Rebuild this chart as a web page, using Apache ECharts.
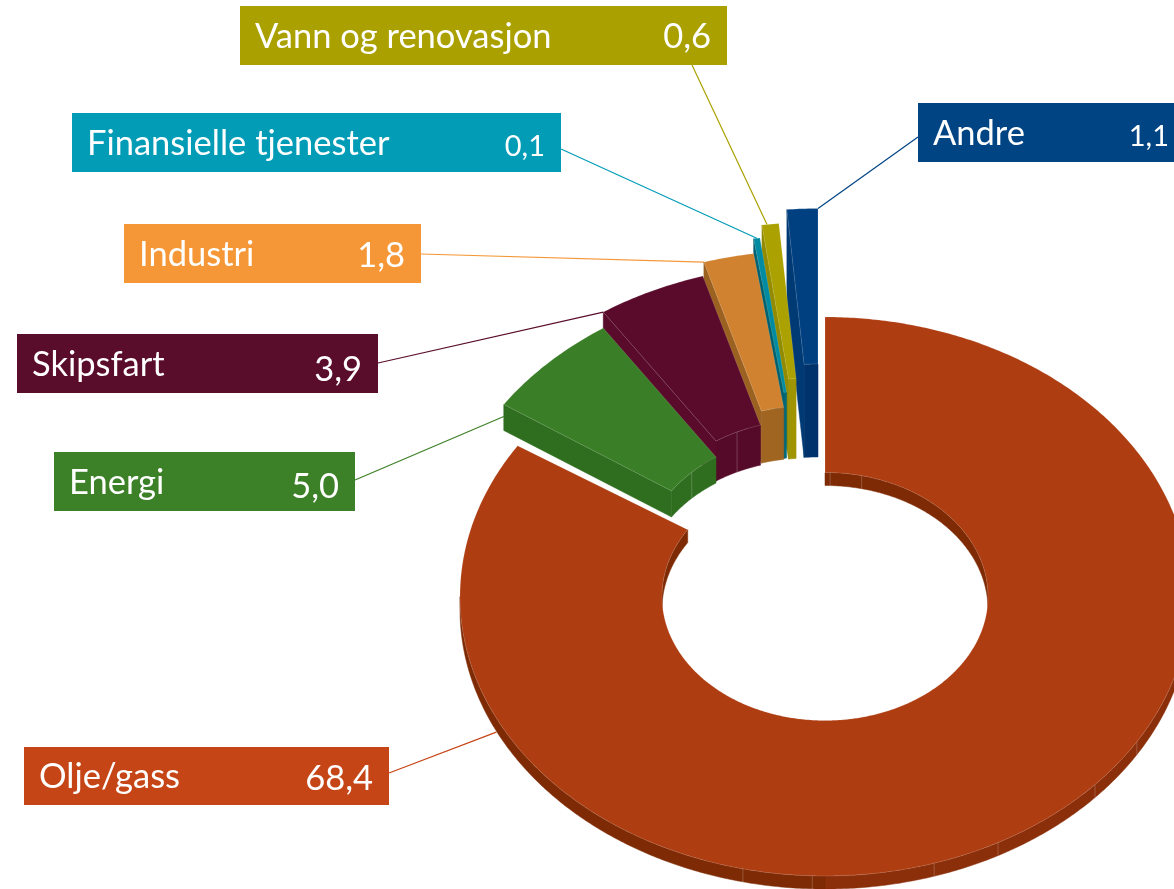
<!DOCTYPE html>
<html>
<head>
<meta charset="utf-8">
<style>
html, body { margin: 0; background: #fff; }
#myChart { width: 1174px; height: 889px; }
</style>
<script src="https://cdn.jsdelivr.net/npm/echarts@6/dist/echarts.min.js"></script>
</head>
<body>
<div id="myChart"></div>
<script>
const categories = ['Olje/gass', 'Energi', 'Skipsfart', 'Industri', 'Finansielle tjenester', 'Vann og renovasjon', 'Andre'];
const values = [68.4, 5.0, 3.9, 1.8, 0.1, 0.6, 1.1];

// colours
const labelColors = ['#c64516', '#3c8027', '#5a0c2b', '#f59737', '#029cb7', '#aaa100', '#004484'];
const topColors = ['#ae3d12', '#3a7f27', '#5a0b2c', '#d08230', '#008ba3', '#aba100', '#004080'];
const wallColors = ['#8a2f0a', '#2f6d1f', '#560a29', '#9f6521', '#006a7c', '#a09500', '#00336b'];
const sideColors = ['#8a2f0a', '#2f6d1f', '#5a0b2c', '#9b6120', '#00606f', '#928a00', '#003a75'];

// where each slice sits: shift of the top face and height of the block
const shiftX = [0, -18, -18, -17, -17, -15, -7];
const shiftY = [0, -36.5, -52.5, -66.5, -81.5, -94.5, -108.5];
const depths = [13, 26, 40, 52, 66, 80, 93];
const seams = [[1.8, 13, 121.3, 132.3, 151.7, 162.6, 182, 193], [315], [334.6], [], [], [], []];

// label boxes [x, y, w, h], value text offset, and where the leader meets the slice
const labelBoxes = [
    [24, 747, 365, 58], [54, 452, 301, 59], [17, 334, 361, 59], [124, 224, 297, 59],
    [72, 113, 489, 59], [240, 6, 487, 59], [918, 103, 256, 59]
];
const leaderFrom = [[389, 773], [355, 480], [378, 363], [421, 254], [561, 149], [692, 65], [918, 137]];
const leaderAlong = [0.807, 0, 0, 0, 0.5, 0.3, 1];
const leaderDrop = [14, 12, 0, 0, 0, 0, 0];
const valueDy = [3, 5, 6, 2, 4, 1, 4];
const valueSize = [34.5, 34.5, 34.5, 34.5, 29, 34.5, 29];

const cx = 825, cy = 596.5;
const outerX = 365, outerY = 279.5, innerX = 163, innerY = 124;
const minAngle = 1;
const endGap = 1.2;     // white gap after the big slice
const fontName = 'Lato';

// slice angles, clockwise from the top. smallest slices get minAngle, taken from the largest
const total = values.reduce((a, b) => a + b, 0);
const sweeps = values.map(v => Math.max(v / total * 360, minAngle));
sweeps[0] -= sweeps.reduce((a, b) => a + b, 0) - 360;
const starts = [];
sweeps.reduce((a, s, i) => { starts[i] = a; return a + s; }, 0);
sweeps[0] -= endGap;

function pt(i, rx, ry, deg, down) {
    const t = deg * Math.PI / 180;
    return [cx + shiftX[i] + rx * Math.sin(t), cy + shiftY[i] - ry * Math.cos(t) + (down || 0)];
}

function arc(i, rx, ry, from, to, down) {
    const pts = [];
    const n = Math.max(2, Math.ceil(Math.abs(to - from) * 2));
    for (let k = 0; k <= n; k++) {
        pts.push(pt(i, rx, ry, from + (to - from) * k / n, down));
    }
    return pts;
}

function wall(i, rx, ry, from, to, z, fill) {
    return {
        type: 'polygon',
        z2: z,
        shape: { points: arc(i, rx, ry, from, to, 0).concat(arc(i, rx, ry, from, to, depths[i]).reverse()) },
        style: { fill: fill, stroke: fill, lineWidth: 0.5 }
    };
}

function renderSlice(params, api) {
    const i = params.dataIndex;
    const a = starts[i], b = a + sweeps[i];
    // later slices lie behind the earlier ones, the big one at the very back
    const base = i === 0 ? 0 : (7 - i) * 10;
    const children = [];
    if (i === 0) {
        children.push(wall(i, innerX, innerY, 0, 90, 1, '#7e2b05'));
        children.push(wall(i, innerX, innerY, 270, b, 1, '#7e2b05'));
        children.push(wall(i, outerX, outerY, 90, 180, 1, wallColors[i]));
        children.push(wall(i, outerX, outerY, 180, 270, 1, '#7e2b05'));
    } else {
        children.push(wall(i, innerX, innerY, a, b, base + 1, wallColors[i]));
        const o = pt(i, outerX, outerY, a), n = pt(i, innerX, innerY, a);
        children.push({
            type: 'polygon',
            z2: base + 1,
            shape: { points: [o, n, [n[0], n[1] + depths[i]], [o[0], o[1] + depths[i]]] },
            style: { fill: sideColors[i], stroke: sideColors[i], lineWidth: 0.5 }
        });
    }
    seams[i].forEach(function (deg) {
        const isOuter = deg > 90 && deg < 270;
        const top = pt(i, isOuter ? outerX : innerX, isOuter ? outerY : innerY, deg);
        children.push({
            type: 'line',
            z2: base + 2,
            shape: { x1: top[0], y1: top[1], x2: top[0], y2: top[1] + depths[i] },
            style: { stroke: 'rgba(255,255,255,0.3)', lineWidth: 0.7 }
        });
    });
    children.push({
        type: 'polygon',
        z2: base + 3,
        shape: { points: arc(i, outerX, outerY, a, b, 0).concat(arc(i, innerX, innerY, b, a, 0)) },
        style: { fill: topColors[i], stroke: 'rgba(255,255,255,0.22)', lineWidth: 0.6 }
    });
    return { type: 'group', children: children };
}

function renderLabel(params, api) {
    const i = params.dataIndex;
    const box = labelBoxes[i];
    const end = pt(i, outerX, outerY, starts[i] + sweeps[i] * leaderAlong[i], leaderDrop[i]);
    const midY = box[1] + box[3] / 2;
    return {
        type: 'group',
        children: [
            {
                type: 'line',
                z2: 100,
                shape: { x1: leaderFrom[i][0], y1: leaderFrom[i][1], x2: end[0], y2: end[1] },
                style: { stroke: labelColors[i], lineWidth: 1.2 }
            },
            {
                type: 'rect',
                z2: 101,
                shape: { x: box[0], y: box[1], width: box[2], height: box[3] },
                style: { fill: labelColors[i] }
            },
            {
                type: 'text',
                z2: 102,
                style: {
                    text: categories[i], x: box[0] + 15, y: midY + 1,
                    fill: '#fff', font: '34.5px ' + fontName, align: 'left', verticalAlign: 'middle'
                }
            },
            {
                type: 'text',
                z2: 102,
                style: {
                    text: api.value(0).toFixed(1).replace('.', ','), x: box[0] + box[2] - (i === 6 ? 5 : 16), y: midY + valueDy[i],
                    fill: '#fff', font: valueSize[i] + 'px ' + fontName, align: 'right', verticalAlign: 'middle'
                }
            }
        ]
    };
}

const myChart = echarts.init(document.getElementById('myChart'), null, { renderer: 'canvas' });
const seriesData = categories.map((name, i) => ({ name: name, value: [values[i]] }));
myChart.setOption({
    animation: false,
    backgroundColor: '#fff',
    series: [
        { type: 'custom', name: 'ledere', coordinateSystem: 'none', silent: true, z: 1, renderItem: renderLabel, data: seriesData },
        { type: 'custom', name: 'andel', coordinateSystem: 'none', silent: true, z: 2, renderItem: renderSlice, data: seriesData }
    ]
});
</script>
</body>
</html>
